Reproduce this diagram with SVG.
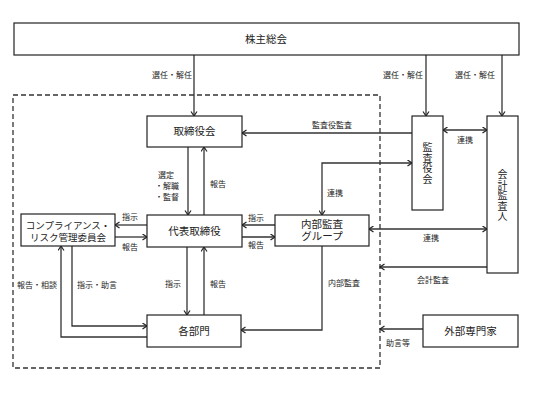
<svg xmlns="http://www.w3.org/2000/svg" width="533" height="400" viewBox="0 0 533 400">
<style>
text{font-family:"Noto Sans CJK JP","Noto Sans CJK SC",sans-serif;fill:#222}
.box{fill:#fff;stroke:#222;stroke-width:1.2}
.bt{font-size:10.5px;text-anchor:middle}
.vt{font-size:10px;text-anchor:middle}
.lb{font-size:8px}
.c{fill:none;stroke:#333;stroke-width:1.3}
.a{marker-end:url(#ah)}
.b{marker-start:url(#as);marker-end:url(#ah)}
</style>
<defs>
<marker id="ah" markerUnits="userSpaceOnUse" markerWidth="8" markerHeight="8" refX="5" refY="3.5" orient="auto">
<path d="M0.5,0.5 L5,3.5 L0.5,6.5" fill="none" stroke="#222" stroke-width="1.2"/>
</marker>
<marker id="as" markerUnits="userSpaceOnUse" markerWidth="8" markerHeight="8" refX="0" refY="3.5" orient="auto">
<path d="M4.5,0.5 L0,3.5 L4.5,6.5" fill="none" stroke="#222" stroke-width="1.2"/>
</marker>
</defs>
<rect x="0" y="0" width="533" height="400" fill="#fff"/>
<rect id="scope" x="13" y="95" width="367" height="273" fill="none" stroke="#333" stroke-width="1.3" stroke-dasharray="5,3"/>
<g id="connectors">
<line class="c a" x1="194" y1="55" x2="194" y2="116"/>
<line class="c a" x1="426" y1="55" x2="426" y2="116"/>
<line class="c a" x1="502" y1="55" x2="502" y2="116"/>
<line class="c a" x1="412" y1="133" x2="242" y2="133"/>
<line class="c b" x1="443" y1="130" x2="487" y2="130"/>
<line class="c a" x1="188" y1="147" x2="188" y2="215"/>
<line class="c a" x1="204" y1="215" x2="204" y2="147"/>
<line class="c a" x1="147" y1="225" x2="115" y2="225"/>
<line class="c a" x1="115" y1="237" x2="147" y2="237"/>
<line class="c a" x1="275" y1="225" x2="242" y2="225"/>
<line class="c a" x1="242" y1="237" x2="275" y2="237"/>
<path class="c b" d="M322,215 V163 H412"/>
<line class="c b" x1="369" y1="229" x2="487" y2="229"/>
<line class="c a" x1="487" y1="267" x2="380" y2="267"/>
<line class="c a" x1="423" y1="329" x2="380" y2="329"/>
<path class="c a" d="M322,246 V330 H241"/>
<line class="c a" x1="187" y1="247" x2="187" y2="315"/>
<line class="c a" x1="204" y1="315" x2="204" y2="247"/>
<path class="c a" d="M72,246 V326 H147"/>
<path class="c a" d="M147,337 H61 V246"/>
</g>
<g id="labels">
<text class="lb" x="172" y="78" text-anchor="middle">選任・解任</text>
<text class="lb" x="403" y="78" text-anchor="middle">選任・解任</text>
<text class="lb" x="475" y="78" text-anchor="middle">選任・解任</text>
<text class="lb" x="332" y="128" text-anchor="middle">監査役監査</text>
<text class="lb" x="457" y="143">連携</text>
<text class="lb"><tspan x="158" y="178">選定</tspan><tspan x="155" y="189">・解職</tspan><tspan x="155" y="200">・監督</tspan></text>
<text class="lb" x="210" y="187">報告</text>
<text class="lb" x="122" y="220">指示</text>
<text class="lb" x="122" y="250">報告</text>
<text class="lb" x="248" y="221">指示</text>
<text class="lb" x="248" y="248">報告</text>
<text class="lb" x="327" y="196">連携</text>
<text class="lb" x="423" y="241">連携</text>
<text class="lb" x="417" y="283">会計監査</text>
<text class="lb" x="386" y="346">助言等</text>
<text class="lb" x="328" y="286">内部監査</text>
<text class="lb" x="17" y="288">報告・相談</text>
<text class="lb" x="77" y="288">指示・助言</text>
<text class="lb" x="165" y="287">指示</text>
<text class="lb" x="210" y="287">報告</text>
</g>
<g id="shareholders">
<rect class="box" x="14" y="23" width="505" height="32"/>
<text class="bt" x="266" y="43">株主総会</text>
</g>
<g id="board">
<rect class="box" x="147" y="116" width="95" height="31"/>
<text class="bt" x="194.5" y="135">取締役会</text>
</g>
<g id="ceo">
<rect class="box" x="147" y="215" width="95" height="32"/>
<text class="bt" x="194.5" y="235">代表取締役</text>
</g>
<g id="compliance">
<rect class="box" x="21" y="214" width="94" height="32"/>
<text class="bt" style="font-size:9.5px"><tspan x="68" y="229">コンプライアンス・</tspan><tspan x="68" y="241">リスク管理委員会</tspan></text>
</g>
<g id="internal-audit">
<rect class="box" x="275" y="215" width="94" height="31"/>
<text class="bt"><tspan x="322" y="228">内部監査</tspan><tspan x="322" y="240">グループ</tspan></text>
</g>
<g id="departments">
<rect class="box" x="147" y="315" width="94" height="32"/>
<text class="bt" x="194" y="335">各部門</text>
</g>
<g id="auditors">
<rect class="box" x="412" y="116" width="31" height="94"/>
<text class="vt"><tspan x="427.5" y="151">監</tspan><tspan x="427.5" y="161.5">査</tspan><tspan x="427.5" y="172">役</tspan><tspan x="427.5" y="182.5">会</tspan></text>
</g>
<g id="accounting-auditor">
<rect class="box" x="487" y="116" width="31" height="157"/>
<text class="vt"><tspan x="502.5" y="178">会</tspan><tspan x="502.5" y="188.5">計</tspan><tspan x="502.5" y="199">監</tspan><tspan x="502.5" y="209.5">査</tspan><tspan x="502.5" y="220">人</tspan></text>
</g>
<g id="experts">
<rect class="box" x="423" y="315" width="95" height="32"/>
<text class="bt" x="470.5" y="335">外部専門家</text>
</g>
</svg>
